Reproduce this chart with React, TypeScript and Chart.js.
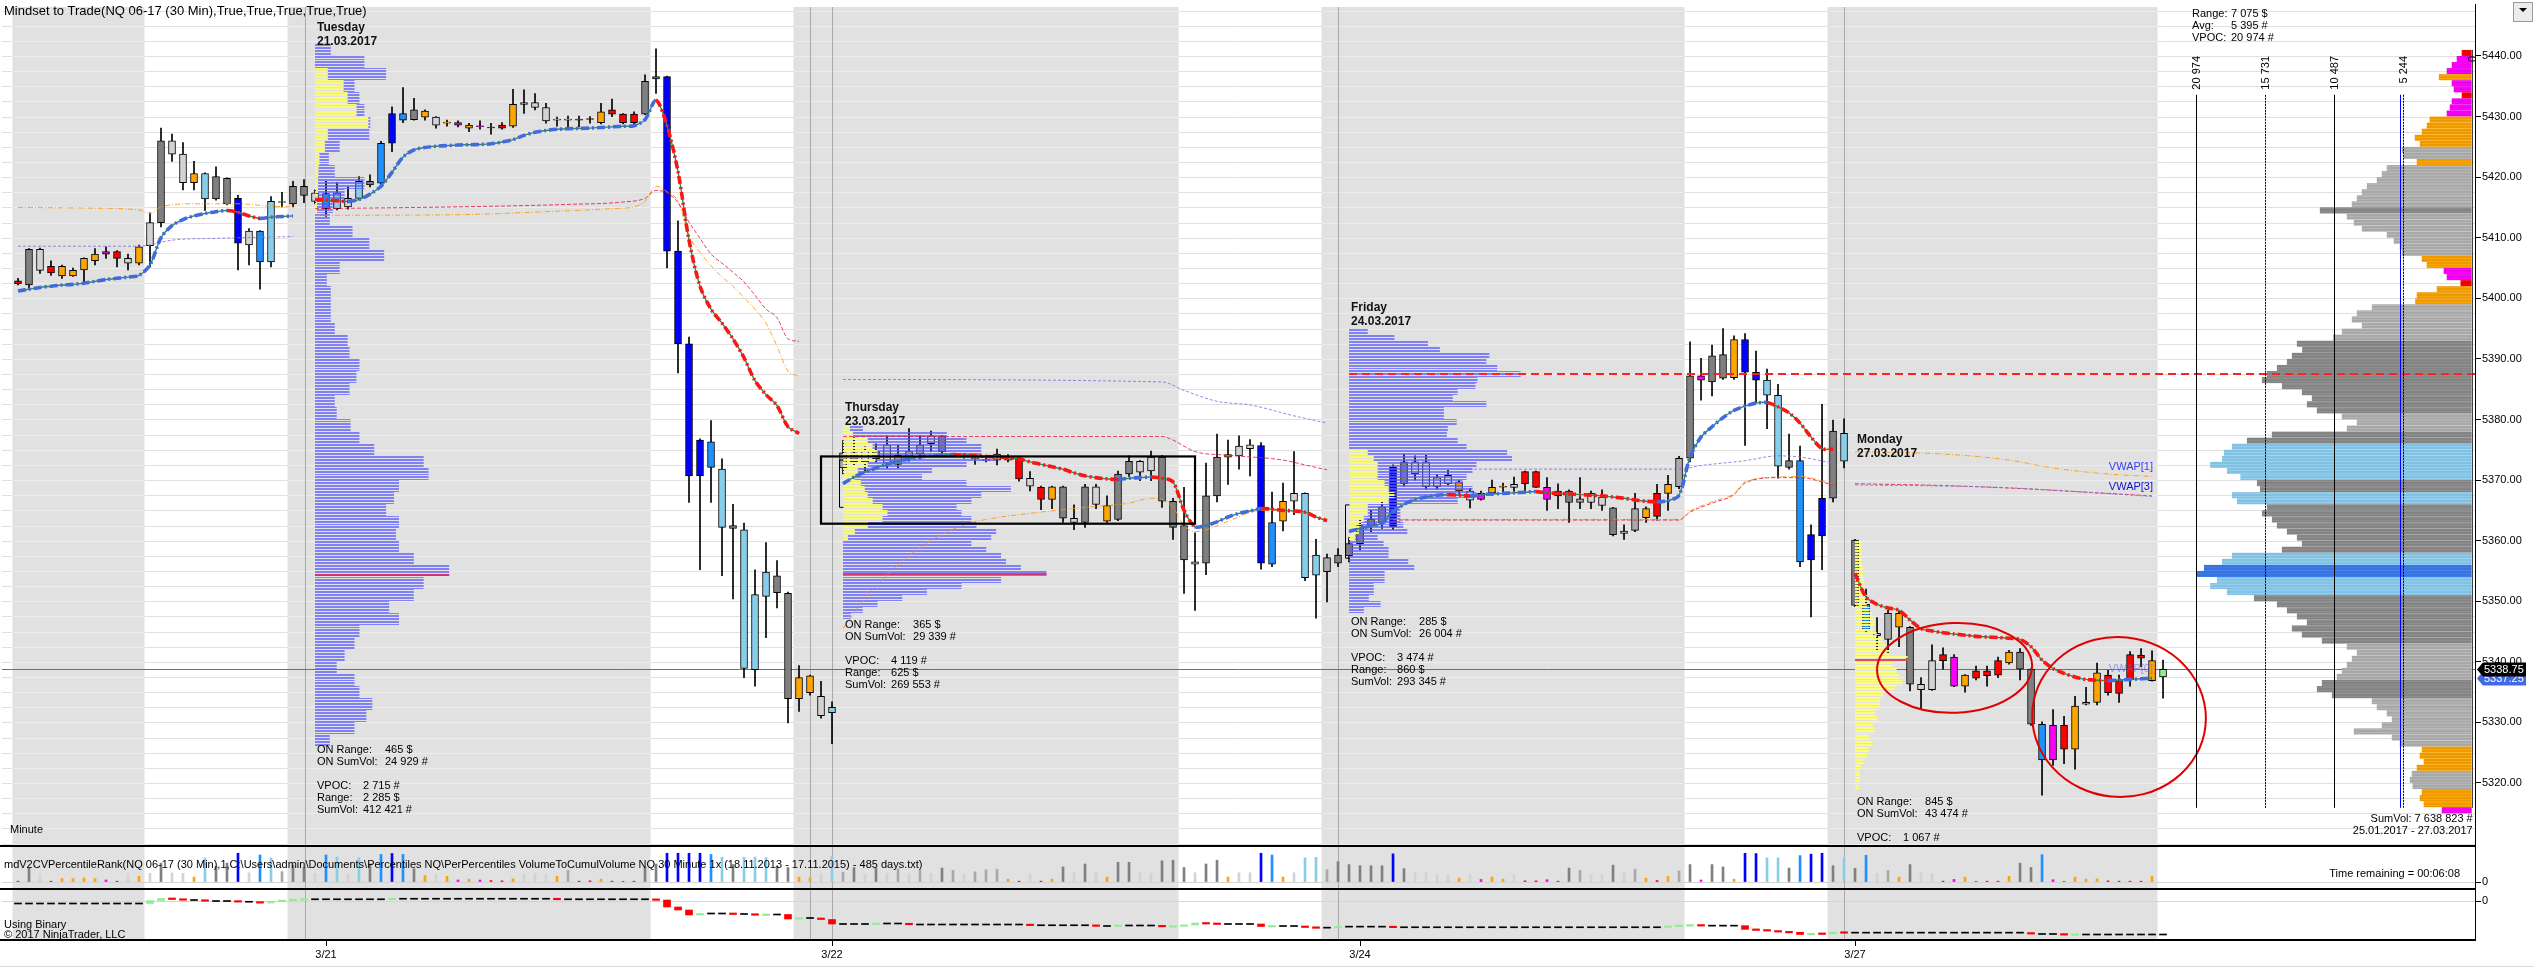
import React, { useEffect, useRef } from 'react';
import { Chart, registerables } from 'chart.js';

Chart.register(...registerables);

const FONT = '"Liberation Sans", Arial, Helvetica, sans-serif';

// ---------------- DATA ----------------
const xTickBars = [28, 74, 122, 167];
const xTickLabels = ['3/21', '3/22', '3/24', '3/27'];
const priceTicks = [5320, 5330, 5340, 5350, 5360, 5370, 5380, 5390, 5400, 5410, 5420, 5430, 5440];

// 30-minute bars: [open, high, low, close]
const candles = [
  [5402.9,5403.3,5402.2,5402.4],[5402.2,5408.2,5401.5,5408.1],[5408.1,5408.3,5404.1,5404.6],[5404.2,5406.2,5403.8,5405.3],[5405.3,5405.5,5403.3,5403.7],
  [5403.7,5405.0,5403.6,5404.6],[5404.7,5406.7,5402.6,5406.6],[5406.2,5408.2,5405.5,5407.3],[5407.3,5408.5,5406.6,5407.7],[5407.7,5407.9,5405.2,5406.6],
  [5406.6,5407.3,5404.7,5405.8],[5405.8,5408.8,5405.5,5408.5],[5408.7,5414.1,5405.2,5412.5],[5412.5,5428.1,5411.8,5426.0],[5426.0,5427.1,5422.6,5423.8],
  [5423.8,5425.7,5417.9,5419.1],[5419.1,5422.6,5417.9,5420.6],[5420.6,5420.7,5414.5,5416.4],[5416.4,5421.7,5416.2,5420.1],[5419.8,5419.9,5415.4,5415.6],
  [5416.5,5417.0,5404.7,5409.1],[5408.8,5411.5,5405.5,5411.1],[5411.1,5411.2,5401.5,5406.0],[5406.0,5416.8,5405.2,5416.0],[5416.0,5417.5,5415.1,5415.9],
  [5415.6,5419.3,5415.1,5418.5],[5418.5,5419.6,5415.8,5417.0],[5417.4,5417.9,5415.6,5416.0],[5417.3,5419.3,5413.5,5414.8],[5414.8,5419.1,5414.6,5417.4],
  [5416.5,5418.4,5414.7,5415.1],[5416.5,5420.1,5416.3,5419.3],[5419.3,5420.4,5418.4,5418.7],[5419.0,5425.9,5418.7,5425.6],[5425.6,5431.6,5424.2,5430.5],
  [5430.5,5434.8,5429.0,5429.4],[5429.5,5433.0,5429.4,5431.1],[5430.9,5431.1,5429.4,5429.9],[5429.9,5430.0,5428.1,5428.6],[5429.0,5429.4,5428.4,5429.0],
  [5429.0,5429.3,5428.3,5428.6],[5428.6,5428.9,5427.5,5428.1],[5428.4,5429.3,5427.9,5428.4],[5428.2,5428.9,5427.1,5428.2],[5428.1,5429.0,5427.9,5428.6],
  [5428.4,5434.5,5428.2,5432.0],[5432.0,5434.4,5430.5,5432.3],[5432.3,5433.8,5431.1,5431.5],[5431.5,5432.2,5428.9,5429.3],[5429.5,5429.9,5428.4,5429.5],
  [5429.5,5430.1,5428.1,5429.5],[5429.5,5430.1,5428.3,5429.5],[5429.6,5430.0,5428.9,5429.6],[5429.0,5432.2,5428.8,5430.8],[5430.4,5432.9,5430.0,5431.1],
  [5430.4,5430.5,5428.8,5429.0],[5429.0,5430.8,5428.8,5430.4],[5430.4,5436.9,5430.3,5435.8],[5436.2,5441.2,5433.8,5436.6],[5436.6,5436.7,5405.0,5407.8],
  [5407.8,5412.8,5387.7,5392.5],[5392.5,5393.6,5366.3,5370.7],[5370.7,5376.8,5355.2,5376.6],[5376.3,5379.8,5366.3,5372.1],[5371.8,5373.5,5354.2,5362.2],
  [5362.5,5366.0,5350.4,5362.0],[5361.8,5362.9,5337.4,5338.9],[5338.7,5355.2,5336.0,5351.1],[5350.8,5359.7,5344.0,5354.8],[5354.2,5356.7,5348.9,5351.4],
  [5351.3,5351.5,5329.9,5333.9],[5333.9,5339.4,5331.8,5337.4],[5337.7,5337.8,5334.5,5334.9],[5334.3,5336.8,5330.7,5331.1],[5331.6,5333.4,5326.5,5332.5],
  [5372.0,5376.5,5371.0,5374.5],[5374.5,5377.0,5372.5,5373.0],[5373.0,5375.5,5371.5,5374.8],[5374.8,5376.0,5373.0,5373.5],[5372.8,5377.3,5372.0,5375.8],
  [5374.1,5375.8,5372.0,5372.6],[5373.9,5378.5,5373.1,5374.7],[5374.3,5377.3,5373.5,5375.8],[5376.0,5378.1,5374.7,5377.3],[5377.2,5377.4,5374.3,5374.7],
  [5374.1,5374.3,5373.8,5374.1],[5374.0,5374.4,5373.6,5374.0],[5373.6,5374.0,5372.6,5373.6],[5373.3,5374.0,5373.0,5373.3],[5373.3,5375.1,5372.5,5374.3],
  [5373.9,5374.2,5373.0,5373.3],[5373.6,5373.7,5369.8,5370.2],[5370.3,5371.4,5368.2,5369.0],[5368.8,5369.0,5365.1,5366.8],[5366.8,5369.0,5365.3,5368.9],
  [5368.9,5369.0,5363.0,5363.7],[5363.7,5365.9,5361.8,5363.0],[5363.0,5369.3,5362.2,5368.9],[5368.9,5369.3,5365.3,5366.0],[5365.8,5367.4,5363.0,5363.2],
  [5363.5,5371.5,5363.3,5371.0],[5371.0,5374.0,5370.6,5373.1],[5373.1,5373.2,5369.9,5371.3],[5371.5,5374.8,5369.9,5373.8],[5373.8,5374.1,5365.5,5366.5],
  [5366.5,5367.0,5360.2,5362.2],[5362.5,5368.8,5351.3,5356.8],[5356.5,5361.3,5348.5,5356.1],[5356.3,5372.8,5354.4,5367.4],[5367.4,5377.6,5366.4,5373.8],
  [5373.8,5376.6,5369.3,5374.2],[5374.0,5377.3,5371.8,5375.6],[5375.2,5376.7,5370.7,5375.8],[5375.7,5376.2,5355.3,5356.3],[5356.1,5368.0,5355.7,5363.0],
  [5363.2,5369.5,5361.6,5366.5],[5366.5,5374.7,5364.3,5367.8],[5367.8,5367.9,5353.4,5353.9],[5354.3,5360.2,5347.2,5357.6],[5357.2,5357.8,5349.9,5354.9],
  [5356.3,5358.7,5355.7,5357.6],[5357.5,5360.5,5356.5,5359.5],[5359.5,5363.5,5358.5,5362.5],[5362.5,5365.0,5361.5,5363.5],[5362.9,5366.5,5362.0,5365.6],
  [5362.3,5372.5,5361.8,5372.1],[5369.4,5374.3,5369.0,5373.0],[5373.0,5374.0,5370.0,5371.0],[5368.9,5374.1,5368.5,5373.0],[5370.4,5370.9,5368.5,5368.9],
  [5369.4,5371.6,5369.2,5370.8],[5369.7,5370.0,5367.8,5368.2],[5368.2,5368.6,5365.4,5366.7],[5367.8,5368.2,5366.7,5366.8],[5367.9,5370.0,5367.5,5368.8],
  [5368.9,5369.5,5368.1,5368.9],[5368.8,5370.5,5368.1,5369.3],[5369.4,5371.5,5368.2,5371.4],[5371.4,5371.5,5368.8,5368.8],[5368.8,5370.4,5365.0,5366.8],
  [5367.4,5369.4,5365.3,5368.2],[5368.2,5368.4,5363.0,5366.3],[5366.3,5370.4,5365.3,5366.9],[5366.3,5368.2,5365.3,5367.8],[5367.2,5368.4,5365.0,5365.8],
  [5365.4,5365.5,5360.8,5361.0],[5361.2,5362.6,5360.2,5361.6],[5361.7,5367.8,5361.5,5365.3],[5365.3,5365.6,5363.0,5363.8],[5364.0,5369.3,5363.4,5367.8],
  [5367.8,5370.8,5365.0,5369.3],[5368.9,5373.9,5368.6,5373.6],[5373.6,5392.8,5373.0,5387.2],[5387.2,5390.1,5383.2,5386.5],[5386.2,5392.3,5383.9,5390.5],
  [5386.8,5395.0,5386.6,5390.7],[5386.9,5393.8,5386.6,5393.2],[5393.2,5394.2,5375.7,5387.8],[5387.8,5391.3,5382.8,5386.5],[5386.5,5388.3,5378.5,5384.0],
  [5384.0,5385.8,5370.3,5372.3],[5372.1,5377.6,5371.8,5373.2],[5373.2,5375.6,5355.7,5356.5],[5356.8,5362.6,5347.4,5361.0],[5360.8,5382.5,5355.2,5367.0],
  [5367.0,5379.9,5366.4,5378.1],[5377.7,5380.1,5372.0,5373.1],[5360.1,5360.2,5349.1,5349.3],[5349.5,5352.0,5345.0,5345.2],[5344.7,5347.3,5342.0,5344.3],
  [5343.7,5348.5,5341.5,5348.0],[5348.0,5348.4,5342.5,5345.7],[5345.7,5345.8,5335.2,5336.3],[5336.3,5337.4,5332.3,5335.4],[5335.4,5342.8,5335.3,5340.2],
  [5340.2,5342.3,5338.8,5341.2],[5340.8,5341.2,5335.9,5336.0],[5336.0,5337.9,5335.0,5337.8],[5337.3,5339.3,5337.0,5338.5],[5338.5,5339.3,5336.0,5337.7],
  [5337.8,5340.8,5337.4,5340.2],[5339.8,5341.9,5339.6,5341.6],[5341.6,5342.2,5337.0,5338.8],[5338.8,5338.9,5329.5,5329.7],[5329.7,5330.1,5318.0,5323.8],
  [5323.8,5332.1,5322.9,5329.5],[5329.5,5331.0,5323.2,5325.6],[5325.6,5334.3,5322.3,5332.7],[5333.0,5335.8,5332.9,5333.3],[5333.3,5339.8,5332.9,5338.2],
  [5337.8,5338.6,5334.5,5334.9],[5334.8,5337.8,5333.3,5336.9],[5337.0,5341.7,5336.0,5341.2],[5341.1,5342.2,5339.2,5340.6],[5340.2,5341.8,5336.8,5336.9],
  [5337.5,5340.3,5334.0,5338.75],
];

// volume percentile rank per bar (0..100); last bar still forming
const volRank = [
  3,50,28,3,12,12,14,12,7,3,
  28,20,30,65,31,30,17,83,55,65,
  99,32,93,83,36,58,50,30,93,86,
  28,83,62,95,98,95,46,22,26,20,
  7,10,7,5,4,11,28,30,26,20,
  40,3,4,10,3,2,3,50,62,99,
  99,99,99,95,85,60,85,86,84,55,
  50,17,15,28,88,34,50,28,48,30,
  45,28,40,30,48,40,27,35,42,44,
  10,3,27,3,10,52,32,62,32,17,
  68,68,32,30,73,75,50,32,62,75,
  17,32,32,99,93,17,32,83,85,42,
  70,60,56,56,56,97,46,32,32,26,
  26,14,26,9,17,10,26,4,4,8,
  3,48,40,26,26,58,32,44,13,5,
  19,38,60,7,60,52,10,99,98,83,
  83,48,91,96,99,56,83,47,92,30,
  40,17,60,32,30,3,9,17,2,3,
  3,20,65,50,94,8,2,17,10,11,
  4,3,3,3,20,null,
];

// session VWAP (VWAP[0]) per bar
const vwap0 = [
  5401.2,5401.5,5401.8,5402.0,5402.2,5402.3,5402.5,5402.8,5403.1,5403.3,
  5403.5,5403.8,5405.5,5410.0,5412.0,5413.0,5413.6,5414.0,5414.3,5414.5,
  5414.2,5413.6,5413.2,5413.4,5413.5,5413.6,null,5416.3,5416.2,5416.1,
  5416.0,5416.3,5417.2,5418.5,5420.8,5423.3,5424.5,5424.9,5425.1,5425.2,
  5425.3,5425.35,5425.4,5425.5,5425.8,5426.2,5426.9,5427.4,5427.7,5427.9,
  5428.0,5428.05,5428.1,5428.2,5428.3,5428.4,5428.5,5429.5,5432.7,5428.5,
  5420.9,5409.6,5402.0,5398.2,5395.9,5393.3,5390.2,5386.4,5384.1,5382.3,
  5378.8,5377.7,null,null,null,5369.4,5370.5,5371.3,5372.0,5372.6,
  5373.1,5373.5,5373.8,5374.0,5374.1,5374.2,5374.1,5374.0,5373.9,5373.8,
  5373.7,5373.5,5373.0,5372.6,5372.2,5371.8,5371.2,5370.7,5370.4,5370.2,
  5370.1,5370.3,5370.4,5370.5,5370.3,5369.7,5365.0,5362.3,5362.5,5363.1,
  5363.9,5364.5,5364.9,5365.3,5365.2,5365.0,5364.9,5364.7,5363.9,5363.3,
  null,5361.5,5362.0,5362.4,5362.9,5364.8,5366.0,5366.8,5367.2,5367.5,
  5367.6,5367.5,5367.4,5367.6,5367.7,5367.8,5367.9,5368.0,5368.1,5367.9,
  5367.8,5367.7,5367.6,5367.5,5367.4,5367.2,5367.0,5366.7,5366.5,5366.4,
  5366.6,5367.5,5373.8,5377.1,5378.8,5380.3,5381.5,5382.2,5382.7,5382.8,
  5382.1,5381.1,5379.4,5377.1,5375.2,5375.1,null,5354.6,5350.7,5349.5,
  5348.9,5348.5,5346.9,5345.5,5345.1,5344.8,5344.6,5344.4,5344.2,5344.1,
  5344.0,5343.9,5343.7,5342.5,5340.3,5338.9,5338.1,5337.5,5337.1,5336.95,
  5336.9,5337.0,5337.1,5337.2,5337.3,null,
];

// earlier-session VWAP lines: segments of [bar, price]
const orangeVwap = [
  [[0,5415.0],[6,5414.9],[11,5414.6],[12,5414.0],[13,5415.1],[16,5415.6],[20,5415.6],[23,5415.2],[25,5415.1]],
  [[27,5413.7],[40,5413.8],[48,5414.3],[54,5414.8],[56,5415.1],[57,5416.0],[58,5418.5],[59,5417.6],[60,5416.0],[61,5410.3],[62,5407.6],[63,5405.4],[64,5403.5],[65,5402.0],[66,5400.1],[67,5398.2],[68,5395.9],[69,5392.1],[70,5388.0],[71,5387.2]],
  [[75,5345.5],[77,5350.5],[80,5356.0],[83,5360.0],[86,5362.6],[88,5363.5],[92,5364.5],[97,5365.5],[101,5366.2],[103,5367.0],[104,5366.8],[105,5365.5],[106,5362.5],[107,5361.5],[108,5361.8],[110,5363.2],[113,5365.0],[116,5364.8],[119,5363.4]],
  [[125,5363.5],[151,5363.5],[152,5364.9],[154,5366.4],[156,5367.8],[157,5369.7],[160,5370.5],[162,5370.6],[165,5369.3]],
  [[167,5374.7],[175,5374.3],[181,5373.3],[185,5372.0],[190,5371.0],[194,5370.6]],
];
const redVwap = [
  [[27,5414.8],[40,5415.1],[50,5415.5],[55,5415.9],[57,5416.5],[58,5417.8],[59,5417.4],[60,5415.8],[61,5412.6],[62,5409.9],[63,5407.3],[64,5405.8],[65,5404.3],[66,5402.7],[67,5400.5],[68,5398.2],[69,5396.8],[70,5393.3],[71,5392.9]],
  [[75,5377.2],[104,5377.2],[105,5376.6],[107,5374.7],[110,5374.1],[115,5373.3],[117,5372.5],[119,5371.7]],
  [[125,5363.4],[151,5363.4],[152,5364.7],[154,5366.2],[156,5367.6],[157,5369.5],[160,5370.4],[162,5370.4],[165,5369.2]],
  [[167,5369.4],[175,5369.1],[182,5368.6],[188,5368.0],[194,5367.4]],
];
const purpleVwap = [
  [[0,5408.6],[11,5408.6],[12,5408.8],[14,5409.6],[18,5409.9],[25,5410.2]],
  [[75,5386.6],[104,5386.2],[106,5384.8],[109,5383.0],[112,5382.4],[116,5380.6],[119,5379.4]],
  [[131,5371.8],[151,5371.8],[153,5372.4],[157,5373.2],[160,5374.0],[162,5373.8],[165,5372.8]],
  [[167,5369.2],[180,5368.8],[194,5367.3]],
];

// lower indicator ("Using Binary") cumulative closes
const binaryClose = [
  -5,-5,-5,-5,-5,-5,-5,-5,-5,-5,
  -5,-5,1,5,4,2,2,0,0,0,
  -1.5,-1.5,-4,-1,1.5,3,3.5,3.5,3.5,3.5,
  3.5,3.5,3.5,3.5,4.5,4.5,4.5,4.5,4.5,4.5,
  4.5,4.5,4.5,4.5,4.5,4.5,4.5,4.5,4.5,3.5,
  3.5,3.5,3.5,3.5,3.5,3.5,3.5,3.5,2,-12,
  -18,-28,-25,-25,-25,-26,-26,-28,-27,-27,
  -36,-34,-34,-37,-46,-46,-46,-46,-45,-45,
  -45,-47,-47,-47,-47,-47,-47,-47,-47,-47,
  -47,-47,-48.5,-48.5,-48.5,-48.5,-48.5,-48.5,-50,-50,
  -49,-49,-49,-49,-51.3,-50.5,-48,-44,-45,-46,
  -46,-46,-46,-51,-50,-50,-50,-53,-53.3,-53.3,
  -51.3,-51.3,-51.3,-51.3,-51.3,-52.5,-52.5,-52.5,-52.5,-52.5,
  -52.5,-52.5,-52.5,-52.5,-52.5,-52.5,-52.5,-52.5,-52.5,-52.5,
  -52.5,-52.5,-52.5,-52.5,-52.5,-52.5,-52.5,-52.5,-52.5,-52.5,
  -50,-49.3,-48,-49.3,-49.3,-49.3,-49.3,-56.7,-58,-59.3,
  -62,-62.5,-67,-65.3,-65.5,-62.7,-63.3,-63.3,-63.3,-63.3,
  -63.3,-63.3,-63.3,-63.3,-63.3,-63.3,-63.3,-63.3,-63.3,-63.3,
  -63.3,-63.3,-63.3,-66,-66,-66,-67.5,-67,-67,-67,
  -67,-67,-67,-67,-67,-67,
];

// overnight (ETH) session spans in bar units, and session separators
const ethSessions = [[-0.5, 11.5], [24.5, 57.5], [70.5, 105.5], [118.5, 151.5], [164.5, 194.5]];
const sessionLines = [26.1, 72, 74, 120, 166];

// session volume profiles (contracts per level), listed from the top level down
const tuesdayVol = [320,1000,1440,800,900,1000,1120,1100,500,280,400,1000,600,360,300,760,1100,1400,500,240,320,320,320,400,660,700,900,840,700,400,440,720,900,1200,2200,2300,1700,1600,1440,1700,1640,1700,2000,2715,2200,2000,1500,1700,900,800,600,440,800,900,1160,1040,800,300];
const tuesdayOnVol = [260,580,660,840,1080,260,200,90,70,60,60,40];
const thursdayVol = [400,2100,2500,2800,2800,3100,2500,1800,1600,2500,3400,2800,2600,2300,2400,2600,2700,3100,3000,2600,2900,3200,3300,3600,4119,3200,2400,1700,1200,700,400,160];
const thursdayOnVol = [140,200,500,600,700,660,500,300,240,360,440,500,600,800,900,800,500,240,100];
const fridayVol = [380,920,1600,1840,2840,2780,3000,3474,2600,2560,2200,2100,2780,1920,1920,2180,2000,1980,2200,2380,3200,3300,2580,2500,2380,2300,2500,2580,2200,1040,1040,1040,1100,1180,580,700,800,800,1200,1320,720,720,500,500,400,640,300];
const fridayOnVol = [380,500,580,580,580,720,800,920,800,380,380,300,240,200,120];
const mondayOnVol = [140,120,140,140,160,160,180,160,200,240,240,300,360,400,360,440,560,600,700,1067,760,840,900,960,800,560,500,500,400,440,360,400,300,360,280,240,160,120,100,100,80];

// composite profile 25.01.2017 - 27.03.2017, 1-point levels from 5441 down
const compositeTop = 5441;
const compositeVol = [
  760,1140,1520,1900,2500,1520,1370,760,1520,1670,
  1900,3200,3420,3800,4330,3950,5320,5170,4180,6460,
  6840,7220,7980,8360,8740,9120,11550,9500,8970,8360,
  6460,5930,5470,5320,3800,3420,2130,1900,850,2660,
  4180,4300,7600,8740,9120,8360,9880,10550,13300,12900,
  13680,14060,14820,15580,15960,14440,12920,12160,12540,11780,
  9880,8740,9500,15200,17100,18240,18850,19000,19900,18620,
  17600,16340,16110,18240,17860,15580,15960,15200,14820,14060,
  13300,12920,14440,18240,19000,20370,20974,19380,19900,18620,
  16570,14820,14060,13300,12540,13680,12920,11400,9500,8740,
  9120,9500,9880,10260,11400,11780,10640,7600,7220,6460,
  6080,6840,8970,6080,5470,3800,3950,3650,4180,4560,
  4710,4500,3800,3950,3650,2280,
];
const compositeMarks = [20974, 15731, 10487, 5244, 0];
const compositeAvg = 5395;
const compositeInfo = [['Range:', '7 075 $'], ['Avg:', '5 395 #'], ['VPOC:', '20 974 #']];

const lastPrice = 5338.75;
const bidPrice = 5337.25;

const sessions: any[] = [
  { start: 27, day: 'Tuesday', date: '21.03.2017', labelPrice: 5442.3, top: 5442, bin: 2, vol: tuesdayVol, onTop: 5438, onBin: 2, onVol: tuesdayOnVol, vpoc: 2715, vpocPrice: 5354.25, infoPrice: 5325.5,
    info: [['ON Range:', '465 $'], ['ON SumVol:', '24 929 #'], ['', ''], ['VPOC:', '2 715 #'], ['Range:', '2 285 $'], ['SumVol:', '412 421 #']] },
  { start: 75, day: 'Thursday', date: '23.03.2017', labelPrice: 5379.6, top: 5379, bin: 1, vol: thursdayVol, onTop: 5379, onBin: 1, onVol: thursdayOnVol, vpoc: 4119, vpocPrice: 5354.5, infoPrice: 5346.1,
    info: [['ON Range:', '365 $'], ['ON SumVol:', '29 339 #'], ['', ''], ['VPOC:', '4 119 #'], ['Range:', '625 $'], ['SumVol:', '269 553 #']] },
  { start: 121, day: 'Friday', date: '24.03.2017', labelPrice: 5396.1, top: 5395, bin: 1, vol: fridayVol, onTop: 5375, onBin: 1, onVol: fridayOnVol, vpoc: 3474, vpocPrice: 5387.5, extendPoc: true, infoPrice: 5346.5,
    info: [['ON Range:', '285 $'], ['ON SumVol:', '26 004 #'], ['', ''], ['VPOC:', '3 474 #'], ['Range:', '860 $'], ['SumVol:', '293 345 #']] },
  { start: 167, day: 'Monday', date: '27.03.2017', labelPrice: 5374.3, top: 5360, bin: 1, vol: [], onTop: 5360, onBin: 1, onVol: mondayOnVol, vpoc: 1067, vpocPrice: 5340.25, infoPrice: 5316.9,
    info: [['ON Range:', '845 $'], ['ON SumVol:', '43 474 #'], ['', ''], ['VPOC:', '1 067 #']] },
];

// drawn annotations (bar, price)
const onBrackets = [[75, 5373.3, 5365.5], [121, 5365.9, 5357.1]];
const boxAnnotation = [73.0, 107.0, 5373.9, 5362.8];
const ellipses = [[176.05, 5339.0, 7.05, 7.4, -0.04], [191.0, 5330.9, 7.9, 13.2, 0.1]];

// ---------------- STYLE HELPERS ----------------
const PROFILE_SCALE = 0.0494; // px per contract
const COMPOSITE_SCALE = 275.7 / 20974;

function rankColor(r: any) {
  if (r == null) return '#90ee90';
  if (r < 6) return '#ff0000';
  if (r < 10) return '#ff00ff';
  if (r < 24) return '#ffa500';
  if (r < 34) return '#d3d3d3';
  if (r < 46) return '#a9a9a9';
  if (r < 80) return '#808080';
  if (r < 90) return '#87ceeb';
  if (r < 96) return '#1e90ff';
  return '#0000ff';
}
function compositeColor(v: number) {
  if (v < 900) return '#ff0000';
  if (v < 2300) return '#ff00ff';
  if (v < 4450) return '#ffa500';
  if (v < 10600) return '#b5b5b5';
  if (v < 17500) return '#8e8e8e';
  if (v < 20200) return '#8fd0f2';
  return '#3d7cf0';
}

function segXY(segs: number[][][]) {
  const out: any[] = [];
  segs.forEach((seg, si) => {
    if (si > 0) out.push({ x: seg[0][0] - 0.5, y: null });
    seg.forEach((p) => out.push({ x: p[0], y: p[1] }));
  });
  return out;
}

function txt(ctx: any, s: string, x: number, y: number, size = 11, align = 'left', color = '#000', weight = 'normal') {
  ctx.font = `${weight} ${size}px ${FONT}`;
  ctx.fillStyle = color;
  ctx.textAlign = align;
  ctx.textBaseline = 'middle';
  ctx.fillText(s, x, y);
}

function drawLevels(ctx: any, xs: any, ys: any, startBar: number, top: number, bin: number, vols: number[], color: string) {
  const x0 = xs.getPixelForValue(startBar);
  ctx.fillStyle = color;
  const sub = bin * 4;
  for (let k = 0; k < vols.length; k++) {
    const hi = top - k * bin;
    const yTop = ys.getPixelForValue(hi);
    const yBot = ys.getPixelForValue(hi - bin);
    const step = (yBot - yTop) / sub;
    const w = vols[k] * PROFILE_SCALE;
    for (let j = 0; j < sub; j++) ctx.fillRect(x0, Math.round(yTop + j * step), w, 1);
  }
}

const overlayPlugin = {
  id: 'ntOverlay',
  beforeDatasetsDraw(chart: any) {
    const { ctx, chartArea } = chart;
    const xs = chart.scales.x, ys = chart.scales.y, y2 = chart.scales.y2, y3 = chart.scales.y3;
    const L = chartArea.left, R = chartArea.right;
    const top = 7, bottom = y3.bottom;
    ctx.save();
    const gridYs: number[] = [];
    for (let p = 5310; p <= 5447.6; p += 2.5) {
      const y = Math.round(ys.getPixelForValue(p)) + 0.5;
      if (y > ys.top + 2 && y < ys.bottom - 1) gridYs.push(y);
    }
    ctx.lineWidth = 1;
    ctx.strokeStyle = '#e0e0e0';
    ctx.beginPath();
    gridYs.forEach((y) => { ctx.moveTo(L, y); ctx.lineTo(R, y); });
    ctx.stroke();
    ethSessions.forEach(([a, b]) => {
      const xa = xs.getPixelForValue(a), xb = xs.getPixelForValue(b);
      ctx.fillStyle = '#e1e1e1';
      ctx.fillRect(xa, top, xb - xa, bottom - top);
      ctx.strokeStyle = '#ededed';
      ctx.beginPath();
      gridYs.forEach((y) => { ctx.moveTo(xa, y); ctx.lineTo(xb, y); });
      ctx.stroke();
    });
    ctx.strokeStyle = '#d4d4d4';
    ctx.beginPath();
    const z2 = Math.round(y2.getPixelForValue(0)) + 0.5;
    const z3 = Math.round(y3.getPixelForValue(0)) + 0.5;
    ctx.moveTo(L, z2); ctx.lineTo(R, z2);
    ctx.moveTo(L, z3); ctx.lineTo(R, z3);
    ctx.stroke();
    ctx.strokeStyle = '#a9a9a9';
    ctx.beginPath();
    sessionLines.forEach((b) => {
      const x = Math.round(xs.getPixelForValue(b)) + 0.5;
      ctx.moveTo(x, top); ctx.lineTo(x, bottom);
    });
    ctx.stroke();
    const yl = Math.round(ys.getPixelForValue(lastPrice)) + 0.5;
    ctx.strokeStyle = '#707070';
    ctx.beginPath(); ctx.moveTo(L, yl); ctx.lineTo(R, yl); ctx.stroke();
    ctx.restore();
  },
  afterDatasetDraw(chart: any, args: any) {
    if (chart.data.datasets[args.index].label !== 'bodies') return;
    const { ctx, chartArea } = chart;
    const xs = chart.scales.x, ys = chart.scales.y;
    ctx.save();
    ctx.beginPath();
    ctx.rect(chartArea.left, ys.top, chartArea.right - chartArea.left, ys.bottom - ys.top);
    ctx.clip();
    sessions.forEach((s) => {
      if (s.vol.length) drawLevels(ctx, xs, ys, s.start, s.top, s.bin, s.vol, 'rgba(92,92,255,0.72)');
      drawLevels(ctx, xs, ys, s.start, s.onTop, s.onBin, s.onVol, 'rgba(255,255,115,0.95)');
      if (!s.extendPoc) {
        const x0 = xs.getPixelForValue(s.start);
        const y = ys.getPixelForValue(s.vpocPrice);
        ctx.fillStyle = 'rgba(225,40,80,0.85)';
        ctx.fillRect(x0, Math.round(y) - 1, s.vpoc * PROFILE_SCALE, 2);
      }
    });
    const base = chartArea.right - 3.3;
    compositeVol.forEach((v, k) => {
      const hi = compositeTop - k;
      const yTop = ys.getPixelForValue(hi), yBot = ys.getPixelForValue(hi - 1);
      const w = v * COMPOSITE_SCALE;
      ctx.fillStyle = compositeColor(v);
      ctx.fillRect(base - w, yTop, w, yBot - yTop);
      ctx.fillStyle = 'rgba(0,0,0,0.07)';
      const step = (yBot - yTop) / 4;
      for (let j = 0; j < 4; j++) ctx.fillRect(base - w, Math.round(yTop + j * step), w, 1);
    });
    ctx.restore();
  },
  afterDatasetsDraw(chart: any) {
    const { ctx, chartArea } = chart;
    const xs = chart.scales.x, ys = chart.scales.y;
    const R = chartArea.right;
    ctx.save();
    ctx.beginPath();
    ctx.rect(chartArea.left, ys.top, R - chartArea.left, ys.bottom - ys.top);
    ctx.clip();
    sessions.filter((s) => s.extendPoc).forEach((s) => {
      const y = ys.getPixelForValue(s.vpocPrice);
      ctx.strokeStyle = '#ff2020';
      ctx.lineWidth = 2;
      ctx.setLineDash([8, 5]);
      ctx.beginPath(); ctx.moveTo(xs.getPixelForValue(s.start), y); ctx.lineTo(R, y); ctx.stroke();
      ctx.setLineDash([]);
    });
    ctx.strokeStyle = '#000'; ctx.lineWidth = 1;
    onBrackets.forEach(([b, hi, lo]) => {
      const x = Math.round(xs.getPixelForValue(b)) - 3.5;
      const y1 = ys.getPixelForValue(hi), y2 = ys.getPixelForValue(lo);
      ctx.beginPath(); ctx.moveTo(x + 4, y1); ctx.lineTo(x, y1); ctx.lineTo(x, y2); ctx.lineTo(x + 4, y2); ctx.stroke();
    });
    ctx.lineWidth = 2.2;
    const bx1 = xs.getPixelForValue(boxAnnotation[0]), bx2 = xs.getPixelForValue(boxAnnotation[1]);
    const by1 = ys.getPixelForValue(boxAnnotation[2]), by2 = ys.getPixelForValue(boxAnnotation[3]);
    ctx.strokeRect(bx1, by1, bx2 - bx1, by2 - by1);
    ctx.strokeStyle = '#e00000'; ctx.lineWidth = 2;
    const pxPerBar = xs.getPixelForValue(101) - xs.getPixelForValue(100);
    const pxPerPt = ys.getPixelForValue(5340) - ys.getPixelForValue(5341);
    ellipses.forEach(([b, p, rb, rp, rot]) => {
      ctx.beginPath();
      ctx.ellipse(xs.getPixelForValue(b), ys.getPixelForValue(p), rb * pxPerBar, rp * pxPerPt, rot, 0, Math.PI * 2);
      ctx.stroke();
    });
    sessions.forEach((s) => {
      const x0 = xs.getPixelForValue(s.start) + 2;
      const yd = ys.getPixelForValue(s.labelPrice);
      txt(ctx, s.day, x0, yd - 14, 12, 'left', '#111', 'bold');
      txt(ctx, s.date, x0, yd, 12, 'left', '#111', 'bold');
      const yi = ys.getPixelForValue(s.infoPrice);
      s.info.forEach((row: string[], k: number) => {
        if (!row[0]) return;
        txt(ctx, row[0], x0, yi + k * 12);
        txt(ctx, row[1], x0 + (row[0].startsWith('ON') ? 68 : 46), yi + k * 12);
      });
    });
    const xl = xs.getPixelForValue(194) + 1;
    const lastO = orangeVwap[orangeVwap.length - 1];
    const lastR = redVwap[redVwap.length - 1];
    txt(ctx, 'VWAP[1]', xl, ys.getPixelForValue(lastO[lastO.length - 1][1]) - 9, 11, 'right', '#3a3aff');
    txt(ctx, 'VWAP[3]', xl, ys.getPixelForValue(lastR[lastR.length - 1][1]) - 9, 11, 'right', '#1010d0');
    txt(ctx, 'VWAP[0]', xl, ys.getPixelForValue(vwap0[194] as number) - 9, 11, 'right', 'rgba(90,90,255,0.55)');
    const base = R - 3.3;
    const yA = ys.getPixelForValue(5433.6), yB = ys.getPixelForValue(5315.9);
    compositeMarks.forEach((m, k) => {
      const x = Math.round(base - m * COMPOSITE_SCALE) + 0.5;
      ctx.strokeStyle = m === 0 ? '#444' : '#000';
      ctx.lineWidth = 1;
      ctx.setLineDash(k % 2 === 1 ? [2, 1] : []);
      ctx.beginPath(); ctx.moveTo(x, m === 0 ? ys.getPixelForValue(5441) : yA); ctx.lineTo(x, yB); ctx.stroke();
      ctx.setLineDash([]);
      ctx.save();
      ctx.translate(x, ys.getPixelForValue(5440));
      ctx.rotate(-Math.PI / 2);
      txt(ctx, m === 0 ? '0' : m.toLocaleString('en-US').replace(',', ' '), 0, 0, 11, 'right');
      ctx.restore();
    });
    const xa = Math.round(base - compositeAvg * COMPOSITE_SCALE) - 0.5;
    ctx.strokeStyle = '#0000ff';
    ctx.beginPath(); ctx.moveTo(xa, yA); ctx.lineTo(xa, yB); ctx.stroke();
    compositeInfo.forEach((row, k) => {
      txt(ctx, row[0], 2192, 14 + k * 12);
      txt(ctx, row[1], 2231, 14 + k * 12);
    });
    txt(ctx, 'SumVol: 7 638 823 #', base + 1, 819, 11, 'right');
    txt(ctx, '25.01.2017 - 27.03.2017', base + 1, 831, 11, 'right');
    txt(ctx, 'Minute', 10, 830);
    ctx.restore();
  },
  afterDraw(chart: any) {
    const { ctx, chartArea } = chart;
    const ys = chart.scales.y, y2 = chart.scales.y2, y3 = chart.scales.y3;
    const R = chartArea.right;
    ctx.save();
    ctx.fillStyle = '#000';
    [ys.bottom, y2.bottom, y3.bottom].forEach((y) => ctx.fillRect(0, Math.round(y) - 1, R, 2));
    const marker = (price: number, bg: string) => {
      const y = ys.getPixelForValue(price);
      ctx.fillStyle = bg;
      ctx.beginPath();
      ctx.moveTo(R + 2, y); ctx.lineTo(R + 8, y - 7); ctx.lineTo(2526, y - 7); ctx.lineTo(2526, y + 7); ctx.lineTo(R + 8, y + 7);
      ctx.closePath(); ctx.fill();
      txt(ctx, price.toFixed(2), R + 9, y + 0.5, 11, 'left', '#fff');
    };
    marker(bidPrice, '#4169e1');
    marker(lastPrice, '#000');
    txt(ctx, 'Mindset to Trade(NQ 06-17 (30 Min),True,True,True,True,True)', 4, 11, 13);
    txt(ctx, 'mdV2CVPercentileRank(NQ 06-17 (30 Min),1,C:\\Users\\admin\\Documents\\Percentiles NQ\\PerPercentiles VolumeToCumulVolume NQ 30 Minute 1x (18.11.2013 - 17.11.2015) - 485 days.txt)', 4, 865);
    txt(ctx, 'Time remaining = 00:06:08', 2460, 874, 11, 'right');
    txt(ctx, 'Using Binary', 4, 925);
    txt(ctx, '\u00a9 2017 NinjaTrader, LLC', 4, 935);
    ctx.fillStyle = '#ececec'; ctx.strokeStyle = '#9a9a9a'; ctx.lineWidth = 1;
    ctx.fillRect(2513.5, 2.5, 19, 19); ctx.strokeRect(2513.5, 2.5, 19, 19);
    ctx.fillStyle = '#000';
    ctx.beginPath(); ctx.moveTo(2519, 8); ctx.lineTo(2527, 8); ctx.lineTo(2523, 12); ctx.closePath(); ctx.fill();
    ctx.fillStyle = '#dcdcdc'; ctx.fillRect(0, 966, 2534, 1);
    ctx.restore();
  },
};

export default function App() {
  const ref = useRef<HTMLCanvasElement>(null);
  useEffect(() => {
    document.body.style.margin = '0';
    const bodyData = candles.map((c, i) => {
      const lo = Math.min(c[0], c[3]), hi = Math.max(c[0], c[3]);
      return { x: i, y: hi - lo < 0.17 ? [c[3] - 0.085, c[3] + 0.085] : [lo, hi] };
    });
    const wickData = candles.map((c, i) => ({ x: i, y: [c[2], c[1]] }));
    const pctData = volRank.map((r, i) => ({ x: i, y: r }));
    const binData = binaryClose.map((c, i) => {
      const o = i > 0 ? binaryClose[i - 1] : c;
      if (o === c) return { x: i, y: [c - 1, c + 1] };
      let lo = Math.min(o, c), hi = Math.max(o, c);
      if (hi - lo < 3) { const m = (hi + lo) / 2; lo = m - 1.5; hi = m + 1.5; }
      return { x: i, y: [lo, hi] };
    });
    const binColor = (i: number) => {
      const o = i > 0 ? binaryClose[i - 1] : binaryClose[i];
      const c = binaryClose[i];
      return c > o ? '#90ee90' : c < o ? '#ff0000' : '#000000';
    };
    const vwapData = vwap0.map((v, i) => ({ x: i, y: v }));
    const thin = (label: string, segs: number[][][], color: string, dash: number[], order: number) => ({
      type: 'line', label, data: segXY(segs), borderColor: color, borderWidth: 1, borderDash: dash,
      pointRadius: 0, tension: 0.35, cubicInterpolationMode: 'monotone', yAxisID: 'y', xAxisID: 'x', order, spanGaps: false,
    });
    const cfg: any = {
      type: 'bar',
      data: {
        datasets: [
          { type: 'bar', label: 'pct', data: pctData, yAxisID: 'y2', xAxisID: 'x', barThickness: 2, grouped: false, order: 30,
            backgroundColor: (c: any) => rankColor(volRank[c.dataIndex]) },
          { type: 'bar', label: 'binary', data: binData, yAxisID: 'y3', xAxisID: 'x', barThickness: 7, grouped: false, order: 29,
            backgroundColor: (c: any) => binColor(c.dataIndex) },
          { type: 'bar', label: 'wicks', data: wickData, yAxisID: 'y', xAxisID: 'x', barThickness: 1, grouped: false, order: 12,
            backgroundColor: '#000' },
          { type: 'bar', label: 'bodies', data: bodyData, yAxisID: 'y', xAxisID: 'x', barThickness: 7, grouped: false, order: 11,
            backgroundColor: (c: any) => rankColor(volRank[c.dataIndex]), borderColor: '#000', borderWidth: 1, borderSkipped: false },
          thin('VWAP[1]', orangeVwap, 'rgba(255,150,0,0.85)', [5, 2, 1, 2], 6),
          thin('VWAP[2]', redVwap, 'rgba(230,20,60,0.8)', [4, 2], 5),
          thin('VWAP[3]', purpleVwap, 'rgba(140,110,225,0.85)', [3, 2], 4),
          { type: 'line', label: 'vwapDots', data: vwapData, borderColor: '#2e8b57', borderWidth: 1.4, pointRadius: 0, tension: 0.3,
            yAxisID: 'y', xAxisID: 'x', order: 3 },
          { type: 'line', label: 'VWAP[0]', data: vwapData, borderColor: '#4169e1', borderWidth: 3.6, borderDash: [8, 3, 2, 3], pointRadius: 0, tension: 0.3,
            yAxisID: 'y', xAxisID: 'x', order: 2,
            segment: { borderColor: (s: any) => (s.p1.parsed.y < s.p0.parsed.y ? '#ff1414' : '#4169e1') } },
        ],
      },
      options: {
        responsive: false,
        animation: false,
        devicePixelRatio: 1,
        events: [],
        layout: { padding: { left: 2, top: 4, right: 0, bottom: 0 } },
        plugins: { legend: { display: false }, tooltip: { enabled: false } },
        scales: {
          x: {
            type: 'linear', position: 'bottom', offset: false, min: -1.4545, max: 223.36,
            afterBuildTicks: (s: any) => { s.ticks = xTickBars.map((v) => ({ value: v })); },
            ticks: { autoSkip: false, maxRotation: 0, color: '#000', padding: 2, font: { family: FONT, size: 11 },
              callback: (v: any) => { const k = xTickBars.indexOf(Number(v)); return k >= 0 ? xTickLabels[k] : ''; } },
            grid: { drawOnChartArea: false, drawTicks: true, tickLength: 6, color: '#000', offset: false },
            border: { display: true, color: '#000' },
            afterFit: (s: any) => { s.height = 29; s.paddingLeft = 0; s.paddingRight = 0; },
          },
          y: {
            type: 'linear', position: 'right', stack: 'panes', stackWeight: 842, min: 5309.6, max: 5448.58,
            afterBuildTicks: (s: any) => { s.ticks = priceTicks.map((v) => ({ value: v })); },
            ticks: { autoSkip: false, color: '#000', padding: 1, font: { family: FONT, size: 11 }, callback: (v: any) => Number(v).toFixed(2) },
            grid: { drawOnChartArea: false, drawTicks: true, tickLength: 6, color: '#000' },
            border: { display: true, color: '#000' },
            afterFit: (s: any) => { s.width = 59; s.paddingTop = 0; s.paddingBottom = 0; },
          },
          y2: {
            type: 'linear', position: 'right', stack: 'panes', stackWeight: 43, min: -24, max: 124,
            afterBuildTicks: (s: any) => { s.ticks = [{ value: 0 }]; },
            ticks: { autoSkip: false, color: '#000', padding: 1, font: { family: FONT, size: 11 }, callback: () => '0' },
            grid: { drawOnChartArea: false, drawTicks: true, tickLength: 6, color: '#000' },
            border: { display: true, color: '#000' },
            afterFit: (s: any) => { s.width = 59; s.paddingTop = 0; s.paddingBottom = 0; },
          },
          y3: {
            type: 'linear', position: 'right', stack: 'panes', stackWeight: 51, min: -78, max: 24,
            afterBuildTicks: (s: any) => { s.ticks = [{ value: 0 }]; },
            ticks: { autoSkip: false, color: '#000', padding: 1, font: { family: FONT, size: 11 }, callback: () => '0' },
            grid: { drawOnChartArea: false, drawTicks: true, tickLength: 6, color: '#000' },
            border: { display: true, color: '#000' },
            afterFit: (s: any) => { s.width = 59; s.paddingTop = 0; s.paddingBottom = 0; },
          },
        },
      },
      plugins: [overlayPlugin],
    };
    const chart = new Chart(ref.current as HTMLCanvasElement, cfg);
    return () => chart.destroy();
  }, []);
  return (
    <div style={{ position: 'absolute', left: 0, top: 0, width: 2534, height: 969, background: '#fff' }}>
      <canvas ref={ref} width={2534} height={969} style={{ display: 'block', width: 2534, height: 969 }} />
    </div>
  );
}
